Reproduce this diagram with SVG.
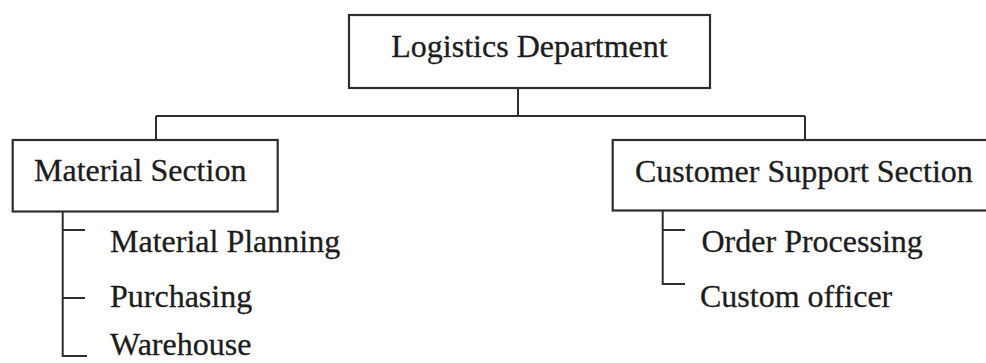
<svg xmlns="http://www.w3.org/2000/svg" width="986" height="363" viewBox="0 0 986 363">
  <style>
    .box { fill: #ffffff; stroke: #2e2e2e; stroke-width: 2.2; }
    .link { fill: none; stroke: #2e2e2e; stroke-width: 2; }
    .label { font-family: "Liberation Serif", "Times New Roman", serif; font-size: 32px; fill: #1c1c1c; stroke: #1c1c1c; stroke-width: 0.3; }
  </style>
  <rect width="986" height="363" fill="#ffffff"/>

  <!-- connectors -->
  <g id="connectors">
    <path class="link" d="M518 88 V116 M156 116 H805 M156 116 V140 M805 116 V140"/>
    <path class="link" d="M62.7 212 V356 H87 M62.7 230 H85 M62.7 298 H85"/>
    <path class="link" d="M662.7 211 V284 H685 M662.7 230 H685"/>
  </g>

  <!-- department -->
  <g id="logistics-department">
    <rect class="box" x="349" y="15" width="361" height="73"/>
    <text class="label" x="529.5" y="57" text-anchor="middle">Logistics Department</text>
  </g>

  <!-- sections -->
  <g id="material-section">
    <rect class="box" x="12.7" y="140" width="265" height="71.5"/>
    <text class="label" x="34" y="181">Material Section</text>
  </g>
  <g id="customer-support-section">
    <rect class="box" x="612.7" y="140" width="400" height="70.5"/>
    <text class="label" x="635" y="181.5">Customer Support Section</text>
  </g>

  <!-- material section units -->
  <g id="material-planning">
    <text class="label" x="110" y="252">Material Planning</text>
  </g>
  <g id="purchasing">
    <text class="label" x="110" y="307">Purchasing</text>
  </g>
  <g id="warehouse">
    <text class="label" x="110" y="355">Warehouse</text>
  </g>

  <!-- customer support units -->
  <g id="order-processing">
    <text class="label" x="701.5" y="252">Order Processing</text>
  </g>
  <g id="custom-officer">
    <text class="label" x="700" y="307">Custom officer</text>
  </g>
</svg>
